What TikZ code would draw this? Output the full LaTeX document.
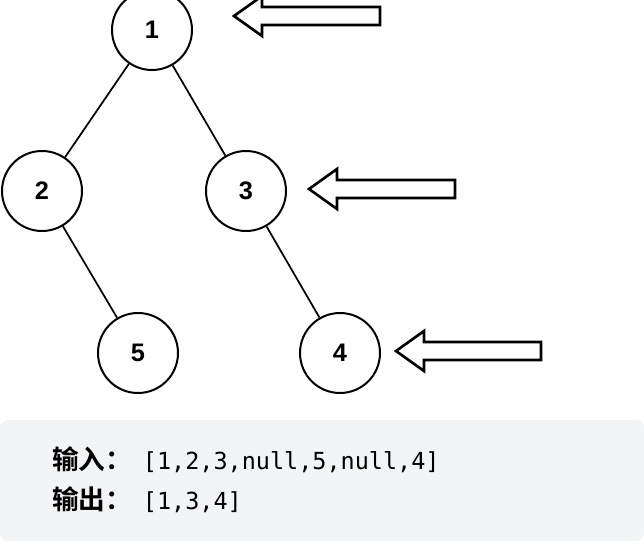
\documentclass[tikz,border=0pt]{standalone}
\usepackage{fontspec}
\setmainfont{Liberation Sans}
\setmonofont{DejaVu Sans Mono}
\newfontfamily\cjk{Noto Sans CJK SC}[BoldFont={* Bold}]
\definecolor{boxgray}{HTML}{F3F4F5}
\begin{document}
\begin{tikzpicture}[
    x=0.75pt, y=-0.75pt,
    tnode/.style={circle, draw, line width=1.5pt, minimum size=60pt, inner sep=0pt, font=\fontsize{19}{19}\selectfont\bfseries},
    edge/.style={line width=1.3pt},
    hollow/.style={draw, line width=2pt, fill=white, line join=miter}
]
\useasboundingbox (0,0) rectangle (644,554);

% output box
\fill[boxgray, rounded corners=6pt] (0,420) rectangle (644,541);
\node[anchor=west, inner sep=0pt] (inp) at (52,460)
  {{\cjk\bfseries\fontsize{20}{20}\selectfont 输入：}\hspace{8pt}\texttt{\fontsize{17.6}{18}\selectfont[1,2,3,null,5,null,4]}};
\node[anchor=west, inner sep=0pt] (outp) at (52,500)
  {{\cjk\bfseries\fontsize{20}{20}\selectfont 输出：}\hspace{8pt}\texttt{\fontsize{17.6}{18}\selectfont[1,3,4]}};

% tree
\node[tnode] (n1) at (152,30) {1};
\node[tnode] (n2) at (42,191) {2};
\node[tnode] (n3) at (246,191) {3};
\node[tnode] (n5) at (138,353) {5};
\node[tnode] (n4) at (340,353) {4};

\draw[edge] (n1) -- (n2);
\draw[edge] (n1) -- (n3);
\draw[edge] (n2) -- (n5);
\draw[edge] (n3) -- (n4);

% right-view markers
\foreach \tx/\ty/\ex in {234/16/380, 309/189/455, 396/351/541}{
  \draw[hollow] (\tx,\ty) -- ++(28,-20) -- ++(0,11) -- (\ex,\ty-9)
    -- (\ex,\ty+9) -- (\tx+28,\ty+9) -- ++(0,11) -- cycle;
}
\end{tikzpicture}
\end{document}
